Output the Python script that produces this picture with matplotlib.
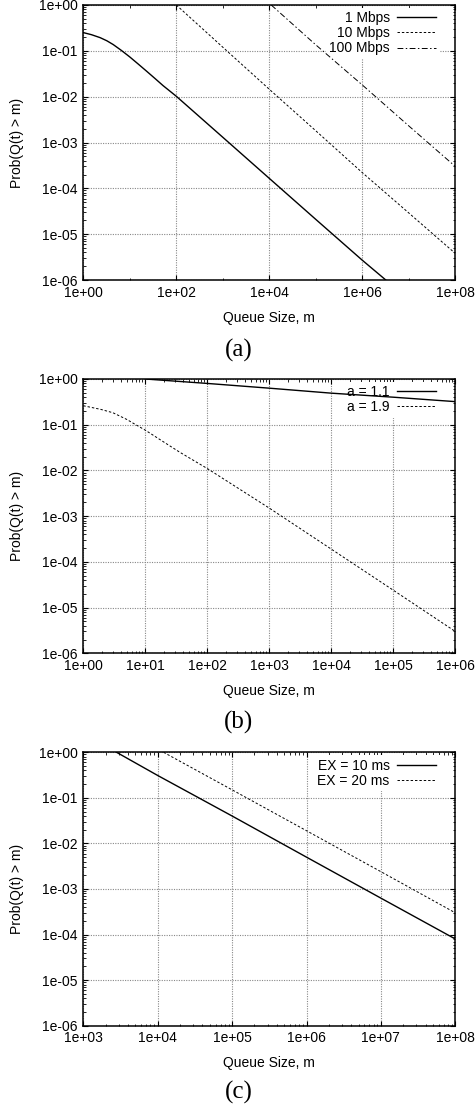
import matplotlib
matplotlib.use("Agg")
import matplotlib.pyplot as plt
from matplotlib.ticker import FixedLocator, LogLocator, FuncFormatter, NullFormatter

plt.rcParams['font.family'] = ['Liberation Sans', 'DejaVu Sans']
plt.rcParams['font.size'] = 10

# (a) link speeds
rate1_x = [1, 1.5, 2.3, 3.2, 4.4, 6.6, 10, 15, 23, 35, 52, 100, 1e3, 1e4, 1e5, 1e6, 3.2e6]
rate1_y = [0.25, 0.225, 0.194, 0.166, 0.137, 0.102, 0.0735, 0.052, 0.0359, 0.0248, 0.0174,
           0.0102, 1.3e-3, 1.65e-4, 2.1e-5, 2.7e-6, 1e-6]
rate10_x = [1e2, 1e3, 1e4, 1e5, 1e6, 1e7, 1e8]
rate10_y = [1.0, 0.12, 1.45e-2, 1.8e-3, 2.2e-4, 2.9e-5, 3.8e-6]
rate100_x = [1.1e4, 1e5, 1e6, 1e7, 1e8]
rate100_y = [1.0, 0.135, 1.8e-2, 2.3e-3, 3e-4]

# (b) Pareto shape a
a11_x = [10, 100, 1e3, 1e4, 1e5, 1e6]
a11_y = [1.0, 0.8, 0.63, 0.49, 0.4, 0.32]
a19_x = [1, 1.9, 3, 5, 7.2, 10, 19.5, 36, 74, 100, 1e3, 1e4, 1e5, 1e6]
a19_y = [0.26, 0.217, 0.183, 0.131, 0.098, 0.076, 0.0425, 0.025, 0.014, 0.011,
         1.5e-3, 1.9e-4, 2.4e-5, 3e-6]

# (c) mean service time EX
ex10_x = [2.8e3, 1e4, 1e5, 1e6, 1e7, 1e8]
ex10_y = [1.0, 0.31, 0.04, 5e-3, 6.3e-4, 8e-5]
ex20_x = [1.2e4, 1e5, 1e6, 1e7, 1e8]
ex20_y = [1.0, 0.15, 0.019, 2.4e-3, 3e-4]

SOLID = '-'
DASH = (0, (2.5, 2))
DASHDOT = (0, (6, 2.5, 1.5, 2.5))

W, H = 477, 1109
fig = plt.figure(figsize=(W / 100, H / 100), dpi=100)

def px_axes(left, top, right, bottom):
    return fig.add_axes([left / W, 1 - bottom / H, (right - left) / W, (bottom - top) / H])

sci = FuncFormatter(lambda v, p: f"{v:.0e}")

def style(ax, xmin, xmax, x_every_other=False):
    ax.set_xscale('log')
    ax.set_yscale('log')
    ax.set_xlim(xmin, xmax)
    ax.set_ylim(1e-6, 1)
    ax.set_axisbelow(True)
    if x_every_other:
        ax.xaxis.set_major_locator(LogLocator(base=100))
        odd = [10.0 ** k for k in range(1, 9, 2)]
        ax.xaxis.set_minor_locator(FixedLocator(odd))
    else:
        ax.xaxis.set_major_locator(LogLocator(base=10))
        ax.xaxis.set_minor_locator(LogLocator(base=10, subs=range(2, 10)))
    ax.yaxis.set_major_locator(LogLocator(base=10))
    ax.yaxis.set_minor_locator(LogLocator(base=10, subs=range(2, 10)))
    ax.xaxis.set_major_formatter(sci)
    ax.yaxis.set_major_formatter(sci)
    ax.xaxis.set_minor_formatter(NullFormatter())
    ax.yaxis.set_minor_formatter(NullFormatter())
    ax.tick_params(which='both', direction='in', top=True, right=True, labelsize=10)
    ax.tick_params(which='major', length=3.5, width=0.8, pad=4)
    ax.tick_params(which='minor', length=1.8, width=0.6)
    ax.grid(True, which='major', linestyle=(0, (1, 1.2)), color='#888888', linewidth=0.8)
    for s in ax.spines.values():
        s.set_linewidth(1.1)
    ax.set_xlabel("Queue Size, m", fontsize=10)
    ax.set_ylabel("Prob(Q(t) > m)", fontsize=10)
    ax.xaxis.label.set_va('center')
    ax.yaxis.label.set_va('center')
    ax.xaxis.set_label_coords(0.5, -38 / 275)
    ax.yaxis.set_label_coords(-66 / 372, 0.5)

def key(ax):
    leg = ax.legend(loc='upper right', bbox_to_anchor=(0.958, 0.99), markerfirst=False,
                    frameon=True, fancybox=False, facecolor='white', edgecolor='none',
                    framealpha=1, fontsize=10, handlelength=2.8, handletextpad=0.55,
                    labelspacing=0.08, borderpad=0.25, borderaxespad=0)
    leg.set_zorder(1.5)

ax1 = px_axes(83.3, 5, 455.3, 280)
style(ax1, 1, 1e8, x_every_other=True)
ax1.plot(rate1_x, rate1_y, color='black', linestyle=SOLID, linewidth=1.0, label='1 Mbps')
ax1.plot(rate10_x, rate10_y, color='black', linestyle=DASH, linewidth=0.7, label='10 Mbps')
ax1.plot(rate100_x, rate100_y, color='black', linestyle=DASHDOT, linewidth=0.7, label='100 Mbps')
key(ax1)

ax2 = px_axes(83.3, 379, 455.3, 653.3)
style(ax2, 1, 1e6)
ax2.plot(a11_x, a11_y, color='black', linestyle=SOLID, linewidth=1.0, label='a = 1.1')
ax2.plot(a19_x, a19_y, color='black', linestyle=DASH, linewidth=0.7, label='a = 1.9')
key(ax2)

ax3 = px_axes(83.3, 752.3, 455.3, 1025.7)
style(ax3, 1e3, 1e8)
ax3.plot(ex10_x, ex10_y, color='black', linestyle=SOLID, linewidth=1.0, label='EX = 10 ms')
ax3.plot(ex20_x, ex20_y, color='black', linestyle=DASH, linewidth=0.7, label='EX = 20 ms')
key(ax3)

for cap, y in [("(a)", 350), ("(b)", 722), ("(c)", 1092)]:
    fig.text(0.5, 1 - y / H, cap, ha='center', va='center', fontsize=18,
             family=['Liberation Serif', 'DejaVu Serif'])

fig.savefig("out.png", dpi=100)
